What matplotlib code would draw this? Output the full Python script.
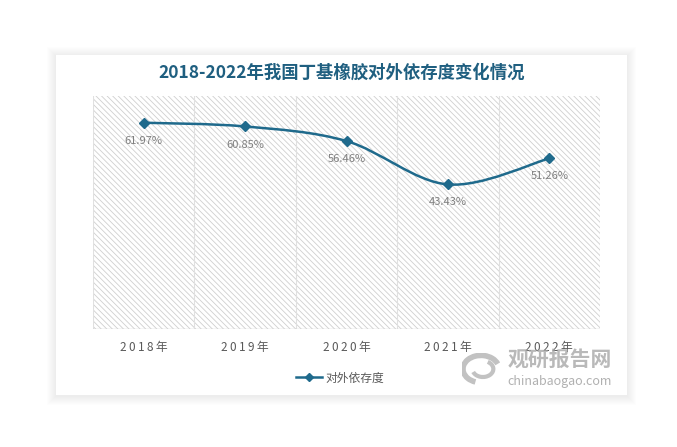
import matplotlib
matplotlib.use("Agg")
import matplotlib.pyplot as plt
from matplotlib.patches import Rectangle, PathPatch, Arc
from matplotlib.path import Path
from matplotlib.lines import Line2D

plt.rcParams['font.family'] = ['Noto Sans CJK SC', 'DejaVu Sans']
plt.rcParams['hatch.linewidth'] = 0.6

years = ["2018年", "2019年", "2020年", "2021年", "2022年"]
values = [61.97, 60.85, 56.46, 43.43, 51.26]
labels = ["61.97%", "60.85%", "56.46%", "43.43%", "51.26%"]
title = "2018-2022年我国丁基橡胶对外依存度变化情况"
series_name = "对外依存度"

line_color = "#1f6a8c"
W, H = 677, 447

fig = plt.figure(figsize=(W / 100, H / 100), dpi=100)
fig.patch.set_facecolor("white")

# card with soft shadow
cx0, cy0, cx1, cy1 = 56, 55, 627, 395
for d in range(1, 10):
    fig.patches.append(Rectangle(((cx0 - d) / W, 1 - (cy1 + d + 1) / H), (cx1 - cx0 + 2 * d) / W,
                                 (cy1 - cy0 + 2 * d) / H, transform=fig.transFigure,
                                 facecolor="black", edgecolor="none", alpha=0.009, zorder=0))
fig.patches.append(Rectangle((cx0 / W, 1 - cy1 / H), (cx1 - cx0) / W, (cy1 - cy0) / H,
                             transform=fig.transFigure, facecolor="white",
                             edgecolor="none", zorder=1))

ax = fig.add_axes([93 / W, 1 - 329 / H, (600 - 93) / W, (329 - 96) / H], zorder=2)
ax.set_facecolor("none")
n = len(values)
x = list(range(n))
ax.set_xlim(-0.5, n - 0.5)
ax.set_ylim(0, 70)

ax.add_patch(Rectangle((-0.5, 0), n, 70, facecolor="white", edgecolor="#cfcfcf",
                       hatch="\\" * 6, linewidth=0, zorder=0))
for gx in [i - 0.5 for i in range(n + 1)]:
    ax.axvline(gx, color="#e0e0e0", lw=0.8, zorder=1)
ax.axhline(0, color="#d0d0d0", lw=1, zorder=1)

for s in ax.spines.values():
    s.set_visible(False)
ax.set_yticks([])
ax.set_xticks(x)
ax.set_xticklabels(["\u2009".join(y) for y in years], color="#595959", fontsize=8.5)
ax.tick_params(axis="x", length=0, pad=9)

# smoothed line (Catmull-Rom to Bezier)
pts = list(zip(x, values))
verts = [pts[0]]
codes = [Path.MOVETO]
t = 1 / 6
for i in range(n - 1):
    p0 = pts[i - 1] if i > 0 else pts[i]
    p1 = pts[i]
    p2 = pts[i + 1]
    p3 = pts[i + 2] if i + 2 < n else pts[i + 1]
    c1 = (p1[0] + (p2[0] - p0[0]) * t, p1[1] + (p2[1] - p0[1]) * t)
    c2 = (p2[0] - (p3[0] - p1[0]) * t, p2[1] - (p3[1] - p1[1]) * t)
    verts += [c1, c2, p2]
    codes += [Path.CURVE4] * 3
ax.add_patch(PathPatch(Path(verts, codes), facecolor="none", edgecolor=line_color,
                       lw=1.8, zorder=3))
ax.plot(x, values, linestyle="none", marker="D", markersize=5.5, color=line_color, zorder=4)

for xi, v, lab in zip(x, values, labels):
    ax.annotate(lab, (xi, v), xytext=(0, -13), textcoords="offset points",
                ha="center", va="center", fontsize=8, color="#7f7f7f", zorder=5)

fig.text(342 / W, 1 - 73 / H, title, ha="center", va="center", fontsize=12.5,
         fontweight="bold", color="#1f5f80", zorder=5)

# legend
handle = Line2D([], [], color=line_color, lw=1.8, marker="D", markersize=4)
leg = fig.legend([handle], [series_name], loc="center", bbox_to_anchor=(340 / W, 1 - 378 / H),
                 frameon=False, fontsize=8.5, handlelength=2.2, handletextpad=0.3)
for txt in leg.get_texts():
    txt.set_color("#595959")

# watermark
wm = "#a8a8a8"
fig.text(560 / W, 1 - 359 / H, "观研报告网", ha="center", va="center", fontsize=15,
         fontweight="bold", color=wm, alpha=0.8, zorder=6)
fig.text(560 / W, 1 - 381 / H, "chinabaogao.com", ha="center", va="center", fontsize=9,
         color=wm, alpha=0.9, zorder=6)
lax = fig.add_axes([462 / W, 1 - 385 / H, 38 / W, 32 / H], zorder=6)
lax.set_xlim(-1, 1)
lax.set_ylim(-1, 1)
lax.axis("off")
lax.add_patch(Arc((0, 0), 1.9, 1.7, theta1=20, theta2=250, lw=4, color=wm, alpha=0.7))
lax.add_patch(Arc((0.1, 0), 1.1, 1.0, theta1=200, theta2=420, lw=3, color=wm, alpha=0.7))

fig.savefig("out.png", dpi=100)
